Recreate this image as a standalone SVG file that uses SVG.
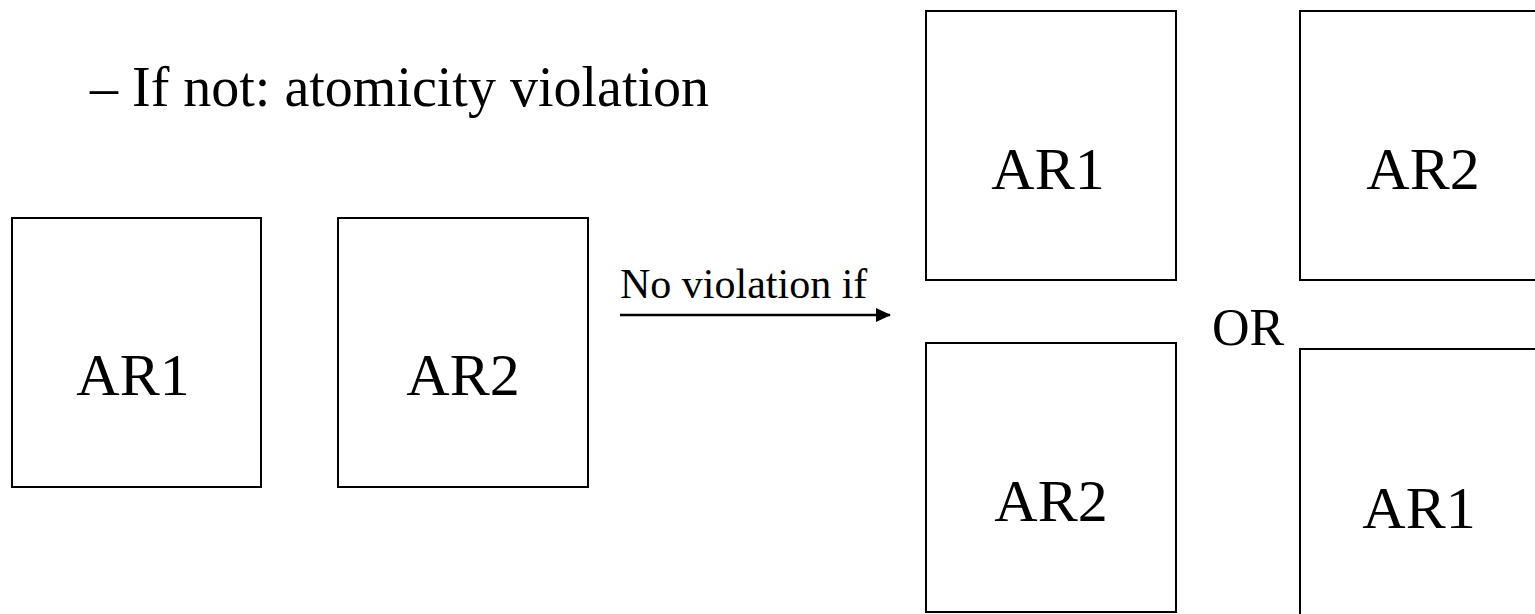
<svg xmlns="http://www.w3.org/2000/svg" width="1535" height="614" viewBox="0 0 1535 614">
<defs>
<style>
.box{fill:#fff;stroke:#000;stroke-width:2}
.lbl{font-family:"Liberation Serif","Times New Roman",serif;font-size:60px;fill:#000;text-anchor:middle}
.txt{font-family:"Liberation Serif","Times New Roman",serif;fill:#000}
</style>
<marker id="ah" markerWidth="15" markerHeight="14" refX="14" refY="7" orient="auto" markerUnits="userSpaceOnUse">
<path d="M0,0 L15,7 L0,14 Z" fill="#000"/>
</marker>
</defs>
<rect width="1535" height="614" fill="#fff"/>
<text class="txt" x="90" y="106" font-size="56">–  If not: atomicity violation</text>
<g id="left-ar1"><rect class="box" x="12" y="218" width="249" height="269"/><text class="lbl" x="133" y="395">AR1</text></g>
<g id="left-ar2"><rect class="box" x="338" y="218" width="250" height="269"/><text class="lbl" x="463" y="395">AR2</text></g>
<g id="top-ar1"><rect class="box" x="926" y="11" width="250" height="269"/><text class="lbl" x="1048" y="189">AR1</text></g>
<g id="top-ar2"><rect class="box" x="1300" y="11" width="250" height="269"/><text class="lbl" x="1423" y="189">AR2</text></g>
<g id="bot-ar2"><rect class="box" x="926" y="343" width="250" height="269"/><text class="lbl" x="1051" y="521">AR2</text></g>
<g id="bot-ar1"><rect class="box" x="1300" y="349" width="250" height="280"/><text class="lbl" x="1419" y="528">AR1</text></g>
<text class="txt" x="1212" y="345" font-size="52">OR</text>
<g id="connectors">
<line x1="620" y1="315" x2="890" y2="315" stroke="#000" stroke-width="2.5" marker-end="url(#ah)"/>
<text class="txt" x="620" y="298" font-size="42">No violation if</text>
</g>
</svg>
